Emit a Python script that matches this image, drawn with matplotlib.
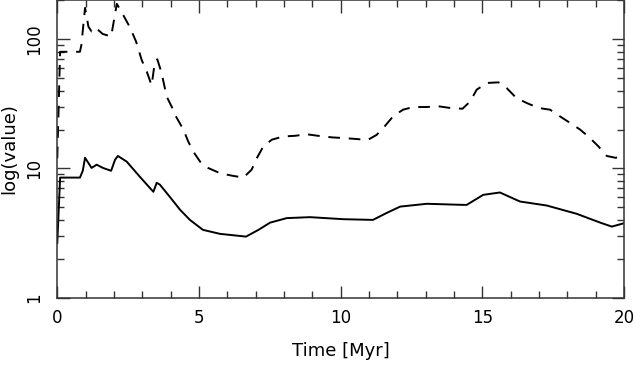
import numpy as np
import matplotlib
matplotlib.use("Agg")
import matplotlib.pyplot as plt
from matplotlib.ticker import LogLocator, NullFormatter, MultipleLocator

plt.rcParams['font.family'] = ['DejaVu Sans']

# solid curve
t_solid = [0.0, 0.1, 0.8, 0.9, 0.98, 1.21, 1.39, 1.61, 1.9, 2.04, 2.14, 2.45, 2.92,
           3.39, 3.51, 3.62, 3.98, 4.33, 4.68, 5.14, 5.74, 6.66, 7.1, 7.51, 8.1, 8.92,
           10.1, 11.14, 11.6, 12.1, 13.04, 14.3, 14.45, 15.03, 15.62, 16.33, 17.27,
           18.33, 19.16, 19.57, 20.0]
v_solid = [2.65, 8.5, 8.5, 9.6, 12.1, 10.1, 10.7, 10.1, 9.6, 11.7, 12.5, 11.3, 8.6,
           6.6, 7.75, 7.5, 6.0, 4.8, 4.0, 3.35, 3.12, 2.97, 3.35, 3.81, 4.13, 4.2,
           4.05, 4.0, 4.5, 5.07, 5.33, 5.23, 5.23, 6.25, 6.52, 5.55, 5.17,
           4.46, 3.81, 3.55, 3.77]

# dashed curve
t_dash = [0.0, 0.1, 0.8, 0.85, 0.98, 1.1, 1.21, 1.35, 1.6, 1.9, 2.0, 2.1, 2.32, 2.57,
          2.78, 2.98, 3.16, 3.33, 3.44, 3.53, 3.68, 3.86, 4.04, 4.2, 4.45, 4.62, 4.8,
          5.04, 5.32, 5.74, 6.16, 6.57, 6.86, 7.04, 7.27, 7.57, 7.98, 8.39, 8.8,
          9.2, 9.7, 10.1, 10.57, 10.95, 11.27, 11.57, 11.85, 12.2, 12.56, 13.04,
          13.45, 13.86, 14.3, 14.57, 14.8, 15.16, 15.57, 15.86, 16.2, 16.57, 16.98,
          17.39, 17.74, 18.1, 18.45, 18.74, 19.1, 19.39, 19.7, 20.0]
v_dash = [12.0, 80, 80, 90, 175, 125, 115, 123, 110, 105, 140, 188, 155, 123,
          96, 69, 56, 44, 66, 70, 55, 36, 30, 25, 20, 16.2, 13.5,
          11.3, 10.1, 9.2, 8.8, 8.5, 9.8, 12.0, 14.8, 16.7, 17.7, 17.9, 18.4,
          17.9, 17.4, 17.2, 16.9, 16.6, 18.2, 21.4, 25.3, 28.5, 29.9, 29.9,
          30.3, 29.4, 29.0, 33, 40.7, 45.9, 46.4, 41.9, 35.1, 32.1, 29.4,
          28.5, 25.3, 22.5, 20.0, 17.7, 14.8, 12.5, 12.1, 12.4]

fig = plt.figure(figsize=(6.35, 3.65), dpi=100)
ax = fig.add_axes([0.0902, 0.1844, 0.8925, 0.8146])

ax.plot(t_solid, v_solid, color='black', lw=1.4)
ax.plot(t_dash, v_dash, color='black', lw=1.4, linestyle=(0, (6, 4.5)))

ax.set_yscale('log')
ax.set_xlim(0, 20)
ax.set_ylim(1, 200)
ax.xaxis.set_major_locator(MultipleLocator(5))
ax.xaxis.set_minor_locator(MultipleLocator(1))
ax.yaxis.set_minor_locator(LogLocator(base=10, subs=np.arange(2, 10)))
ax.yaxis.set_minor_formatter(NullFormatter())
ax.set_yticks([1, 10, 100])
ax.set_yticklabels(['1', '10', '100'], rotation=90, va='center')

ax.tick_params(which='both', direction='in', top=True, right=True, labelsize=12,
               color='#333333', width=1)
ax.tick_params(which='major', length=9)
ax.tick_params(which='minor', length=5)
ax.tick_params(axis='x', pad=8)
ax.tick_params(axis='y', pad=10)
for s in ax.spines.values():
    s.set_linewidth(1.1)
    s.set_color('#333333')

ax.set_xlabel('Time [Myr]', fontsize=13, labelpad=11)
ax.set_ylabel('log(value)', fontsize=13, labelpad=5)

fig.savefig('out.png', dpi=100)
